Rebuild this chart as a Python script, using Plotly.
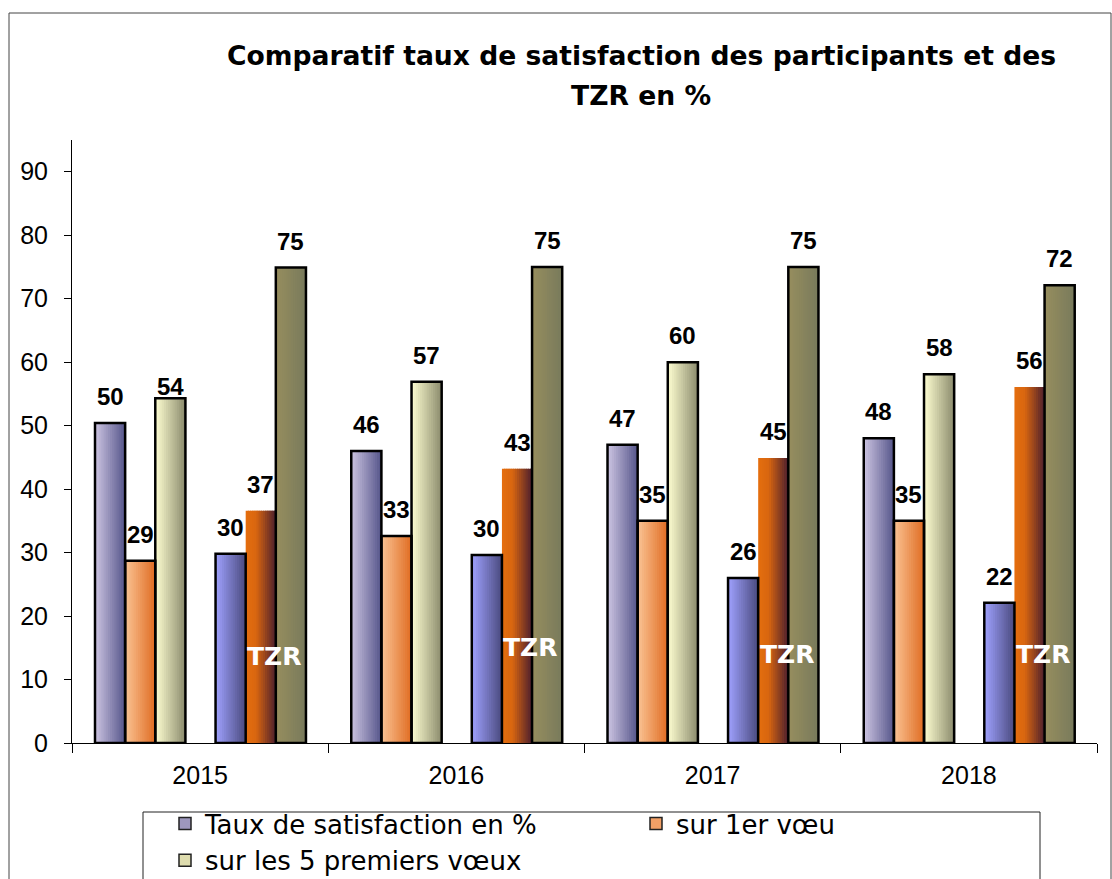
import plotly.graph_objects as go

# ---------------- data ----------------
YEARS = ["2015", "2016", "2017", "2018"]
LEGEND_NAMES = ["Taux de satisfaction en %", "sur 1er vœu", "sur les 5 premiers vœux"]
PARTICIPANTS_SATISFACTION = [50.4, 46.0, 47.0, 48.0]
PARTICIPANTS_1ER_VOEU = [28.7, 32.6, 35.0, 35.0]
PARTICIPANTS_5_VOEUX = [54.3, 56.9, 60.0, 58.1]
TZR_SATISFACTION = [29.8, 29.6, 26.0, 22.1]
TZR_1ER_VOEU = [36.6, 43.2, 44.9, 56.1]
TZR_5_VOEUX = [74.9, 75.0, 75.0, 72.1]
GROUP_LABEL = "TZR"
TITLE_LINES = ["Comparatif taux de satisfaction des participants et des", "TZR en %"]

# ---------------- layout constants ----------------
W, H = 1112, 879
ML, MR, MT, MB = 72, 15, 140, 136
PW, PH = W - ML - MR, H - MT - MB

def px(xp):
    return (xp - ML) / PW

def py(yp):
    return (H - MB - yp) / PH

SLOT_W = 0.1176
GROUP_START = -0.4102
N_STRIPS = 14
TZR_LABEL_Y = [13.6, 15.0, 13.9, 13.9]
TZR_LABEL_DX = 0.289

def hex2rgb(h):
    h = h.lstrip("#")
    return tuple(int(h[i:i + 2], 16) for i in (0, 2, 4))

def grad(stops, t):
    for (t0, c0), (t1, c1) in zip(stops[:-1], stops[1:]):
        if t0 <= t <= t1:
            f = (t - t0) / (t1 - t0) if t1 > t0 else 0
            a, b = hex2rgb(c0), hex2rgb(c1)
            return "rgb(%d,%d,%d)" % tuple(round(a[i] + (b[i] - a[i]) * f) for i in range(3))
    return stops[-1][1]

SERIES = [
    # values, slot, gradient stops, outline colour
    (PARTICIPANTS_SATISFACTION, 0, [(0, "#cdc5e2"), (1, "#55558a")], "black"),
    (PARTICIPANTS_1ER_VOEU, 1, [(0, "#fac495"), (1, "#e06c22")], "black"),
    (PARTICIPANTS_5_VOEUX, 2, [(0, "#ffffd2"), (1, "#8a8a6c")], "black"),
    (TZR_SATISFACTION, 4, [(0, "#a0a2ff"), (1, "#4a4a7e")], "black"),
    (TZR_1ER_VOEU, 5, [(0, "#e56e0e"), (0.35, "#d86610"), (1, "#4c1e2e")], None),
    (TZR_5_VOEUX, 6, [(0, "#978e5e"), (1, "#787a5c")], "black"),
]
LEGEND_COLORS = ["#9d97bd", "#f2a066", "#dedcae"]
LABEL_YSHIFT_DEFAULT = 11
LABEL_YSHIFT_OVERRIDE = {(0, 2): -4}

fig = go.Figure()

# gradient strips
for vals, slot, stops, _ in SERIES:
    off = GROUP_START + slot * SLOT_W
    sw = SLOT_W / N_STRIPS
    for k in range(N_STRIPS):
        t = (k + 0.5) / N_STRIPS
        fig.add_trace(go.Bar(
            x=YEARS, y=vals,
            offset=off + k * sw,
            width=sw * (1.6 if k < N_STRIPS - 1 else 1.0),
            marker=dict(color=grad(stops, t), line=dict(width=0)),
            showlegend=False, hoverinfo="skip",
        ))

# outlines
for vals, slot, stops, oc in SERIES:
    if oc is None:
        continue
    off = GROUP_START + slot * SLOT_W
    fig.add_trace(go.Bar(
        x=YEARS, y=vals, offset=off, width=SLOT_W,
        marker=dict(color="rgba(0,0,0,0)", line=dict(color=oc, width=2.5)),
        showlegend=False, hoverinfo="skip",
    ))

# legend entries
for name, col in zip(LEGEND_NAMES, LEGEND_COLORS):
    fig.add_trace(go.Bar(
        x=YEARS, y=[None] * len(YEARS), name=name,
        marker=dict(color=col, line=dict(color="#222", width=1.5)),
        hoverinfo="skip",
    ))

annotations = []
for si, (vals, slot, stops, _) in enumerate(SERIES):
    off = GROUP_START + slot * SLOT_W
    for i, v in enumerate(vals):
        annotations.append(dict(
            x=i + off + SLOT_W / 2, y=v, xref="x", yref="y",
            text=f"{v:.0f}", showarrow=False, yanchor="bottom",
            yshift=LABEL_YSHIFT_OVERRIDE.get((i, si), LABEL_YSHIFT_DEFAULT),
            font=dict(family="Liberation Sans, Arial", size=24, color="black", weight="bold"),
        ))

for i in range(len(YEARS)):
    annotations.append(dict(
        x=i + TZR_LABEL_DX, y=TZR_LABEL_Y[i], xref="x", yref="y",
        text=f"<b>{GROUP_LABEL}</b>", showarrow=False, yanchor="middle",
        font=dict(family="DejaVu Sans", size=25, color="white"),
    ))

for line, yc in zip(TITLE_LINES, [55, 95]):
    annotations.append(dict(
        x=px(641), y=py(yc), xref="paper", yref="paper",
        text=f"<b>{line}</b>", showarrow=False, xanchor="center", yanchor="middle",
        font=dict(family="DejaVu Sans", size=26.6, color="black"),
    ))

shapes = [
    dict(type="rect", xref="paper", yref="paper",
         x0=px(9), x1=px(1111), y0=py(13), y1=py(910),
         line=dict(color="#444", width=1), fillcolor="rgba(0,0,0,0)", layer="below"),
    dict(type="rect", xref="paper", yref="paper",
         x0=px(143), x1=px(1040), y0=py(812), y1=py(910),
         line=dict(color="#222", width=1), fillcolor="rgba(0,0,0,0)", layer="below"),
]

fig.update_layout(
    width=W, height=H,
    margin=dict(l=ML, r=MR, t=MT, b=MB, autoexpand=False),
    paper_bgcolor="white", plot_bgcolor="white",
    barmode="overlay",
    font=dict(family="Liberation Sans, Arial", size=25, color="black"),
    annotations=annotations,
    shapes=shapes,
    legend=dict(
        orientation="h", x=px(165), y=py(800), xanchor="left", yanchor="top",
        font=dict(family="DejaVu Sans", size=26, color="black"),
        bgcolor="rgba(0,0,0,0)", borderwidth=0,
        entrywidth=426, entrywidthmode="pixels",
        itemclick=False, itemdoubleclick=False,
    ),
    xaxis=dict(
        type="category", range=[-0.5, 3.5], showline=True, linecolor="black", linewidth=1,
        ticks="outside", tickson="boundaries", ticklen=9, tickcolor="black",
        showgrid=False, zeroline=False, ticklabelstandoff=10,
        tickfont=dict(family="Liberation Sans, Arial", size=25, color="black"),
    ),
    yaxis=dict(
        range=[0, 95], dtick=10, tick0=0, showline=True, linecolor="black", linewidth=1,
        ticks="outside", ticklen=7, tickcolor="black", showgrid=False, zeroline=False,
        ticklabelstandoff=11,
        tickfont=dict(family="Liberation Sans, Arial", size=25, color="black"),
    ),
)

fig.write_html(
    "out.html",
    config={"displayModeBar": False},
    post_script="document.body.style.margin='0';document.body.style.padding='0';",
)
